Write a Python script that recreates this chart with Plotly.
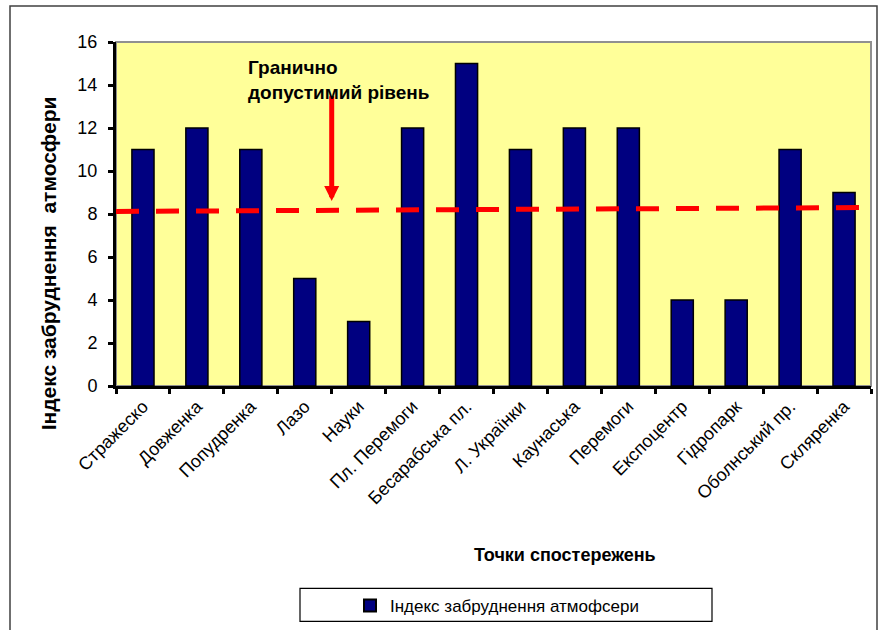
import plotly.graph_objects as go

categories = ["Стражеско", "Довженка", "Попудренка", "Лазо", "Науки", "Пл. Перемоги",
              "Бесарабська пл.", "Л. Українки", "Каунаська", "Перемоги", "Експоцентр",
              "Гідропарк", "Оболнський пр.", "Скляренка"]
pollution_index = [11, 12, 11, 5, 3, 12, 15, 11, 12, 12, 4, 4, 11, 9]
series_name = "Індекс забруднення атмофсери"
limit_start = 8.12
limit_end = 8.3
arrow_pos = 3.5
arrow_tip = 8.6
arrow_tail = 13.55
y_ticks = [0, 2, 4, 6, 8, 10, 12, 14, 16]

FONT = "Liberation Sans, Arial, sans-serif"

W, H = 879, 630
L, R, T, B = 116, 871, 42, 387


def px_x(px):
    return (px - L) / (R - L)


def px_y(py):
    return (B - py) / (B - T)


fig = go.Figure()
fig.add_trace(go.Bar(
    x=categories, y=pollution_index, name=series_name,
    marker=dict(color="#000080", line=dict(color="black", width=1.5)),
    width=0.41, showlegend=True,
))

fig.update_layout(
    width=W, height=H,
    margin=dict(l=L, r=W - R, t=T, b=H - B),
    paper_bgcolor="white",
    plot_bgcolor="#FFFF99",
    font=dict(family=FONT, size=16, color="black"),
    showlegend=True,
    legend=dict(
        x=px_x(497), y=px_y(606), xanchor="center", yanchor="middle",
        orientation="h", bgcolor="rgba(0,0,0,0)", borderwidth=0,
        font=dict(size=17, family=FONT), itemsizing="constant",
    ),
    xaxis=dict(
        type="category", tickangle=-45, tickson="boundaries",
        ticks="outside", ticklen=5, tickwidth=3, tickcolor="black",
        showline=True, linecolor="black", linewidth=3,
        showgrid=False, tickfont=dict(size=18, family=FONT),
        range=[-0.5, len(categories) - 0.5],
    ),
    yaxis=dict(
        range=[0, 16], tickvals=y_ticks, ticks="outside", ticklen=5,
        tickwidth=3, tickcolor="black", showline=True, linecolor="black",
        linewidth=3, showgrid=False, zeroline=False,
        tickfont=dict(size=18, family=FONT), ticklabelstandoff=7,
    ),
    bargap=0.59,
)

shapes = [
    dict(type="rect", xref="paper", yref="paper", x0=0, x1=1, y0=0, y1=1,
         line=dict(color="#909090", width=2), layer="below"),
    dict(type="line", xref="x domain", yref="y", x0=0, x1=1,
         y0=limit_start, y1=limit_end,
         line=dict(color="#FF0000", width=5, dash="23px,17px"), layer="above"),
    dict(type="rect", xref="paper", yref="paper",
         x0=px_x(300), x1=px_x(712), y0=px_y(623), y1=px_y(590),
         line=dict(color="black", width=1.2)),
    dict(type="rect", xref="paper", yref="paper",
         x0=px_x(10), x1=px_x(877), y0=px_y(660), y1=px_y(6),
         line=dict(color="#404040", width=1.5)),
]
fig.update_layout(shapes=shapes)

fig.add_annotation(
    x=arrow_pos, y=arrow_tip, ax=arrow_pos, ay=arrow_tail,
    xref="x", yref="y", axref="x", ayref="y",
    text="", showarrow=True, arrowhead=2, arrowwidth=5, arrowsize=0.6,
    arrowcolor="#FF0000",
)
fig.add_annotation(
    x=px_x(246), y=px_y(55), xref="paper", yref="paper",
    xanchor="left", yanchor="top", align="left", showarrow=False,
    text="<b>Гранично<br>допустимий рівень</b>",
    font=dict(size=19, family=FONT, color="black"),
)
fig.add_annotation(
    x=px_x(48), y=px_y(264), xref="paper", yref="paper",
    xanchor="center", yanchor="middle", textangle=-90, showarrow=False,
    text="<b>Індекс забруднення\u00a0 атмосфери</b>",
    font=dict(size=21, family=FONT, color="black"),
)
fig.add_annotation(
    x=px_x(565), y=px_y(556), xref="paper", yref="paper",
    xanchor="center", yanchor="middle", showarrow=False,
    text="<b>Точки спостережень</b>",
    font=dict(size=18, family=FONT, color="black"),
)

fig.write_html("out.html", config={"displayModeBar": False},
               post_script="document.body.style.margin='0';")
